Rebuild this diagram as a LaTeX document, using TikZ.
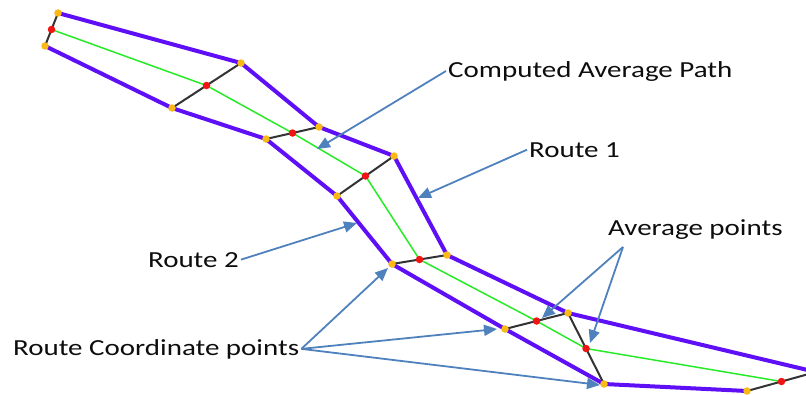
\documentclass[tikz,border=0pt]{standalone}
\usepackage{fontspec}
\newfontfamily\labfont[FakeStretch=1.26]{Carlito}
\usetikzlibrary{arrows.meta}
\definecolor{routec}{RGB}{95,15,245}
\definecolor{avgc}{RGB}{40,235,40}
\definecolor{callc}{RGB}{79,129,189}
\definecolor{ptc}{RGB}{250,185,20}
\definecolor{redc}{RGB}{240,20,20}
\begin{document}
\begin{tikzpicture}[x=1pt,y=-1pt,
  route/.style={routec,line width=4pt,line join=round},
  avg/.style={avgc,line width=1.5pt,line join=round},
  cross/.style={black!80,line width=2pt},
  callout/.style={callc,line width=1.8pt,-{Triangle[length=13pt,width=11pt]}},
  lbl/.style={font=\labfont\fontsize{23}{27}\selectfont,text=black!95,inner sep=2pt},
  rpt/.style={circle,fill=ptc,inner sep=0pt,minimum size=7.5pt},
  apt/.style={circle,fill=redc,inner sep=0pt,minimum size=7.5pt}]
\useasboundingbox (0,0) rectangle (806,394);
\clip (0,0) rectangle (806,394);
% route 1 points
\coordinate (a1) at (58,13);
\coordinate (b1) at (241,63);
\coordinate (c1) at (319,127);
\coordinate (d1) at (394,156);
\coordinate (e1) at (447,255);
\coordinate (f1) at (568,313);
\coordinate (g1) at (816,372);
% route 2 points
\coordinate (a2) at (45,46);
\coordinate (b2) at (172,108);
\coordinate (c2) at (266,139);
\coordinate (d2) at (337,196);
\coordinate (e2) at (392,264);
\coordinate (f2) at (505,329);
\coordinate (g2) at (604,384);
\coordinate (h2) at (747,391);
% average points
\path (a1) -- (a2) coordinate[pos=0.5] (m1);
\path (b1) -- (b2) coordinate[pos=0.5] (m2);
\path (c1) -- (c2) coordinate[pos=0.5] (m3);
\path (d1) -- (d2) coordinate[pos=0.5] (m4);
\path (e1) -- (e2) coordinate[pos=0.5] (m5);
\path (f1) -- (f2) coordinate[pos=0.5] (m6);
\path (f1) -- (g2) coordinate[pos=0.5] (m7);
\path (g1) -- (h2) coordinate[pos=0.5] (m8);
% routes
\draw[route] (a1) -- (b1) -- (c1) -- (d1) -- (e1) -- (f1) -- (g1);
\draw[route] (a2) -- (b2) -- (c2) -- (d2) -- (e2) -- (f2) -- (g2) -- (h2);
% average path
\draw[avg] (m1) -- (m2) -- (m3) -- (m4) -- (m5) -- (m6) -- (m7) -- (m8);
% cross lines
\draw[cross] (a1) -- (a2);
\draw[cross] (b1) -- (b2);
\draw[cross] (c1) -- (c2);
\draw[cross] (d1) -- (d2);
\draw[cross] (e1) -- (e2);
\draw[cross] (f1) -- (f2);
\draw[cross] (f1) -- (g2);
\draw[cross] (g1) -- (h2);
% dots
\foreach \p in {a1,b1,c1,d1,e1,f1,a2,b2,c2,d2,e2,f2,g2,h2}
  \node[rpt] at (\p) {};
\foreach \p in {m1,m2,m3,m4,m5,m6,m7,m8}
  \node[apt] at (\p) {};
% labels
\node[lbl,anchor=base west] (cap) at (446,77) {Computed Average Path};
\node[lbl,anchor=base west] (r1) at (527,157) {Route 1};
\node[lbl,anchor=base east] (r2) at (241,267) {Route 2};
\node[lbl,anchor=base west] (rcp) at (11,355) {Route Coordinate points};
\node[lbl,anchor=base west] (avp) at (606,235) {Average points};
\coordinate (avsrc) at (623,247);
% callouts
\coordinate (t1) at (317,149);
\coordinate (t2) at (418,198);
\coordinate (t3) at (357,223);
\coordinate (t4) at (388,268);
\coordinate (t5) at (497,329);
\coordinate (t6) at (600,385);
\coordinate (t7) at (542,318);
\coordinate (t8) at (590,343);
\draw[callout] (cap.west) -- (t1);
\draw[callout] (r1.west) -- (t2);
\draw[callout] (r2.east) -- (t3);
\draw[callout] (rcp.east) -- (t4);
\draw[callout] (rcp.east) -- (t5);
\draw[callout] (rcp.east) -- (t6);
\draw[callout] (avsrc) -- (t7);
\draw[callout] (avsrc) -- (t8);
\end{tikzpicture}
\end{document}
